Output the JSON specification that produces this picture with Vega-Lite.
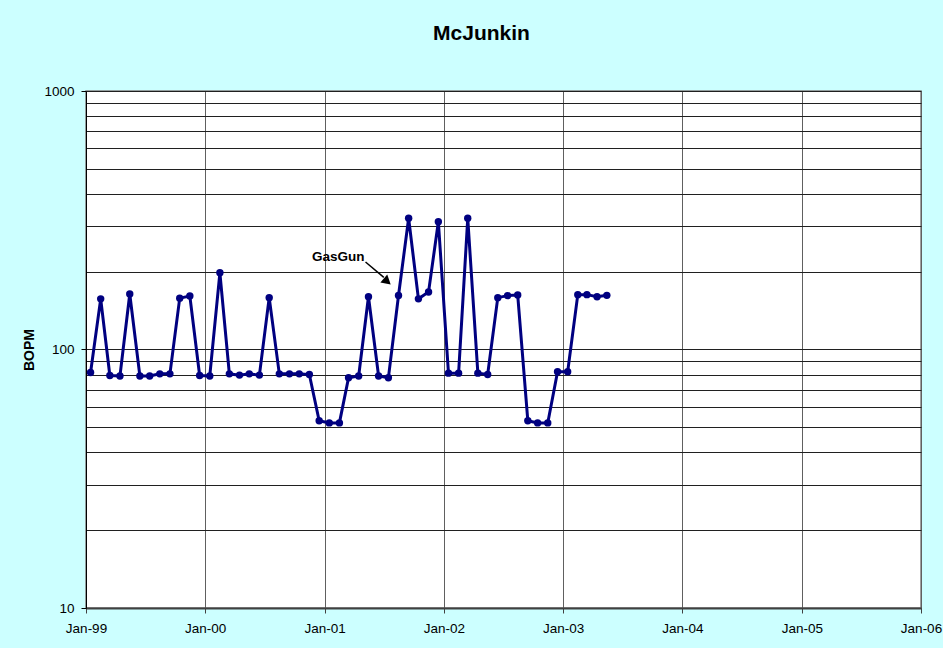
{
  "$schema": "https://vega.github.io/schema/vega-lite/v6.json",
  "width": 835,
  "height": 517,
  "autosize": {"type": "none"},
  "padding": {"left": 86, "top": 91, "right": 22, "bottom": 40},
  "background": "#CCFFFF",
  "title": {
    "text": "McJunkin",
    "font": "Liberation Sans",
    "fontSize": 21,
    "fontWeight": "bold",
    "color": "#000000",
    "anchor": "middle",
    "frame": "group",
    "offset": 40,
    "dx": -22
  },
  "config": {
    "view": {"fill": "#FFFFFF", "stroke": "#808080", "strokeWidth": 1.5},
    "axis": {"labelFont": "Liberation Sans", "titleFont": "Liberation Sans", "labelColor": "#000000", "titleColor": "#000000"}
  },
  "datasets": {
    "prod": [
      {"date": "1999-01-15", "value": 81.5},
      {"date": "1999-02-15", "value": 157},
      {"date": "1999-03-15", "value": 79.3},
      {"date": "1999-04-15", "value": 79},
      {"date": "1999-05-15", "value": 164},
      {"date": "1999-06-15", "value": 79},
      {"date": "1999-07-15", "value": 79},
      {"date": "1999-08-15", "value": 80.5},
      {"date": "1999-09-15", "value": 80.5},
      {"date": "1999-10-15", "value": 158},
      {"date": "1999-11-15", "value": 161},
      {"date": "1999-12-15", "value": 79.3},
      {"date": "2000-01-15", "value": 79},
      {"date": "2000-02-15", "value": 198},
      {"date": "2000-03-15", "value": 80.5},
      {"date": "2000-04-15", "value": 79.6},
      {"date": "2000-05-15", "value": 80.5},
      {"date": "2000-06-15", "value": 79.6},
      {"date": "2000-07-15", "value": 158.7},
      {"date": "2000-08-15", "value": 80.5},
      {"date": "2000-09-15", "value": 80.5},
      {"date": "2000-10-15", "value": 80.5},
      {"date": "2000-11-15", "value": 80},
      {"date": "2000-12-15", "value": 53},
      {"date": "2001-01-15", "value": 52},
      {"date": "2001-02-15", "value": 52},
      {"date": "2001-03-15", "value": 77.7},
      {"date": "2001-04-15", "value": 79},
      {"date": "2001-05-15", "value": 160},
      {"date": "2001-06-15", "value": 79},
      {"date": "2001-07-15", "value": 77.7},
      {"date": "2001-08-15", "value": 161.8},
      {"date": "2001-09-15", "value": 322},
      {"date": "2001-10-15", "value": 157},
      {"date": "2001-11-15", "value": 167},
      {"date": "2001-12-15", "value": 312},
      {"date": "2002-01-15", "value": 81},
      {"date": "2002-02-15", "value": 81},
      {"date": "2002-03-15", "value": 322},
      {"date": "2002-04-15", "value": 81},
      {"date": "2002-05-15", "value": 80},
      {"date": "2002-06-15", "value": 158.7},
      {"date": "2002-07-15", "value": 161.6},
      {"date": "2002-08-15", "value": 162.4},
      {"date": "2002-09-15", "value": 53},
      {"date": "2002-10-15", "value": 52},
      {"date": "2002-11-15", "value": 52},
      {"date": "2002-12-15", "value": 82},
      {"date": "2003-01-15", "value": 82},
      {"date": "2003-02-15", "value": 163},
      {"date": "2003-03-15", "value": 163},
      {"date": "2003-04-15", "value": 160},
      {"date": "2003-05-15", "value": 162}
    ],
    "label": [{"date": "2000-11-23", "value": 228, "text": "GasGun"}],
    "arrow": [{"date": "2001-05-06", "value": 218, "date2": "2001-07-01", "value2": 190}],
    "head": [{"date": "2001-07-08", "value": 185}]
  },
  "encoding": {
    "x": {
      "field": "date",
      "type": "temporal",
      "scale": {
        "type": "utc",
        "domain": [
          {"year": 1999, "month": 1, "date": 1, "utc": true},
          {"year": 2006, "month": 1, "date": 1, "utc": true}
        ]
      },
      "axis": {
        "title": null,
        "labelExpr": "utcFormat(datum.value, '%b-%y')",
        "tickCount": {"interval": "year", "step": 1},
        "labelFontSize": 13.5,
        "labelPadding": 8,
        "tickSize": 5,
        "tickColor": "#404040",
        "domainColor": "#404040",
        "domainWidth": 2,
        "gridColor": "#606060",
        "gridWidth": 1,
        "labelFlush": false,
        "labelOverlap": false
      }
    },
    "y": {
      "field": "value",
      "type": "quantitative",
      "scale": {"type": "log", "domain": [10, 1000], "nice": false},
      "axis": {
        "title": "BOPM",
        "titleFontSize": 14,
        "titleFontWeight": "bold",
        "titleX": -57,
        "titleY": 258.5,
        "titleBaseline": "middle",
        "titleAngle": -90,
        "values": [10, 20, 30, 40, 50, 60, 70, 80, 90, 100, 200, 300, 400, 500, 600, 700, 800, 900, 1000],
        "format": "d",
        "labelExpr": "(datum.value == 10 || datum.value == 100 || datum.value == 1000) ? datum.label : ''",
        "labelFontSize": 13.5,
        "labelPadding": 7,
        "labelOverlap": false,
        "labelFlush": false,
        "tickSize": 5,
        "tickColor": "#000000",
        "tickOpacity": {"condition": {"test": "datum.value == 10 || datum.value == 100 || datum.value == 1000", "value": 1}, "value": 0},
        "domainColor": "#000000",
        "domainWidth": 1,
        "gridColor": "#202020",
        "gridWidth": 1
      }
    }
  },
  "layer": [
    {
      "data": {"name": "prod"},
      "mark": {
        "type": "line",
        "color": "#000080",
        "strokeWidth": 3,
        "point": {"filled": true, "color": "#000080", "size": 55, "opacity": 1}
      }
    },
    {
      "data": {"name": "label"},
      "mark": {"type": "text", "align": "left", "baseline": "middle", "font": "Liberation Sans", "fontSize": 13.5, "fontWeight": "bold", "color": "#000000"},
      "encoding": {"text": {"field": "text"}}
    },
    {
      "data": {"name": "arrow"},
      "mark": {"type": "rule", "color": "#000000", "strokeWidth": 1.5},
      "encoding": {
        "x2": {"field": "date2"},
        "y2": {"field": "value2"}
      }
    },
    {
      "data": {"name": "head"},
      "mark": {"type": "point", "shape": "triangle", "filled": true, "color": "#000000", "size": 110, "angle": 131, "opacity": 1}
    }
  ]
}
